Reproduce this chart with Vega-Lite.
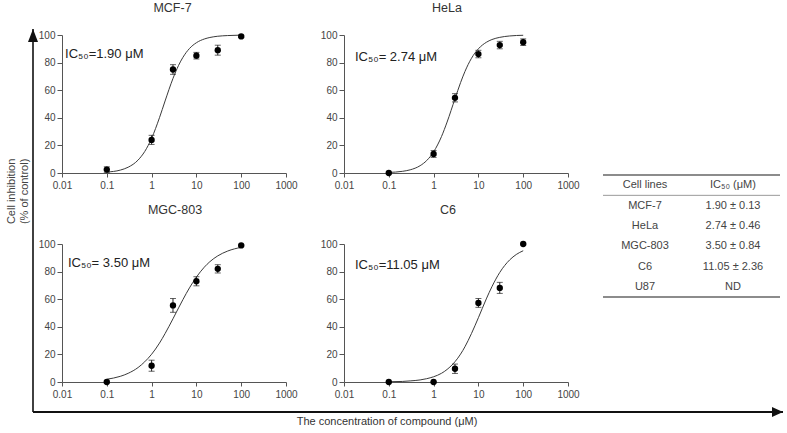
{
  "$schema": "https://vega.github.io/schema/vega-lite/v6.json",
  "padding": {"left": 6, "top": 1, "right": 4, "bottom": 4},
  "autosize": {"type": "pad"},
  "datasets": {
    "curves": [
      {"cell": "MCF-7", "conc": 0.1, "inh": 0.7}, {"cell": "MCF-7", "conc": 0.2, "inh": 2.1}, {"cell": "MCF-7", "conc": 0.3, "inh": 4.2}, {"cell": "MCF-7", "conc": 0.5, "inh": 9.4}, {"cell": "MCF-7", "conc": 0.7, "inh": 15.5}, {"cell": "MCF-7", "conc": 1, "inh": 25.1}, {"cell": "MCF-7", "conc": 1.5, "inh": 40.1}, {"cell": "MCF-7", "conc": 2, "inh": 52.2}, {"cell": "MCF-7", "conc": 3, "inh": 68.5}, {"cell": "MCF-7", "conc": 4, "inh": 78.0}, {"cell": "MCF-7", "conc": 5, "inh": 83.8}, {"cell": "MCF-7", "conc": 7, "inh": 90.2}, {"cell": "MCF-7", "conc": 10, "inh": 94.4}, {"cell": "MCF-7", "conc": 15, "inh": 97.1}, {"cell": "MCF-7", "conc": 20, "inh": 98.2}, {"cell": "MCF-7", "conc": 30, "inh": 99.1}, {"cell": "MCF-7", "conc": 50, "inh": 99.6}, {"cell": "MCF-7", "conc": 100, "inh": 99.9},
      {"cell": "HeLa", "conc": 0.1, "inh": 0.4}, {"cell": "HeLa", "conc": 0.2, "inh": 1.2}, {"cell": "HeLa", "conc": 0.3, "inh": 2.3}, {"cell": "HeLa", "conc": 0.5, "inh": 5.3}, {"cell": "HeLa", "conc": 0.7, "inh": 9.0}, {"cell": "HeLa", "conc": 1, "inh": 15.3}, {"cell": "HeLa", "conc": 1.5, "inh": 26.4}, {"cell": "HeLa", "conc": 2, "inh": 36.9}, {"cell": "HeLa", "conc": 3, "inh": 53.8}, {"cell": "HeLa", "conc": 4, "inh": 65.5}, {"cell": "HeLa", "conc": 5, "inh": 73.5}, {"cell": "HeLa", "conc": 7, "inh": 83.1}, {"cell": "HeLa", "conc": 10, "inh": 90.0}, {"cell": "HeLa", "conc": 15, "inh": 94.7}, {"cell": "HeLa", "conc": 20, "inh": 96.7}, {"cell": "HeLa", "conc": 30, "inh": 98.3}, {"cell": "HeLa", "conc": 50, "inh": 99.3}, {"cell": "HeLa", "conc": 100, "inh": 99.8},
      {"cell": "MGC-803", "conc": 0.1, "inh": 2.0}, {"cell": "MGC-803", "conc": 0.2, "inh": 4.1}, {"cell": "MGC-803", "conc": 0.3, "inh": 6.3}, {"cell": "MGC-803", "conc": 0.5, "inh": 10.5}, {"cell": "MGC-803", "conc": 0.7, "inh": 14.6}, {"cell": "MGC-803", "conc": 1, "inh": 20.1}, {"cell": "MGC-803", "conc": 1.5, "inh": 28.2}, {"cell": "MGC-803", "conc": 2, "inh": 35.1}, {"cell": "MGC-803", "conc": 3, "inh": 45.8}, {"cell": "MGC-803", "conc": 4, "inh": 53.7}, {"cell": "MGC-803", "conc": 5, "inh": 59.7}, {"cell": "MGC-803", "conc": 7, "inh": 68.2}, {"cell": "MGC-803", "conc": 10, "inh": 76.0}, {"cell": "MGC-803", "conc": 15, "inh": 83.2}, {"cell": "MGC-803", "conc": 20, "inh": 87.2}, {"cell": "MGC-803", "conc": 30, "inh": 91.4}, {"cell": "MGC-803", "conc": 50, "inh": 94.9}, {"cell": "MGC-803", "conc": 100, "inh": 97.6},
      {"cell": "C6", "conc": 0.1, "inh": 0.2}, {"cell": "C6", "conc": 0.2, "inh": 0.4}, {"cell": "C6", "conc": 0.3, "inh": 0.8}, {"cell": "C6", "conc": 0.5, "inh": 1.5}, {"cell": "C6", "conc": 0.7, "inh": 2.4}, {"cell": "C6", "conc": 1, "inh": 3.8}, {"cell": "C6", "conc": 1.5, "inh": 6.3}, {"cell": "C6", "conc": 2, "inh": 9.1}, {"cell": "C6", "conc": 3, "inh": 14.7}, {"cell": "C6", "conc": 4, "inh": 20.2}, {"cell": "C6", "conc": 5, "inh": 25.5}, {"cell": "C6", "conc": 7, "inh": 35.1}, {"cell": "C6", "conc": 10, "inh": 46.6}, {"cell": "C6", "conc": 15, "inh": 60.2}, {"cell": "C6", "conc": 20, "inh": 69.0}, {"cell": "C6", "conc": 30, "inh": 79.4}, {"cell": "C6", "conc": 50, "inh": 88.5}, {"cell": "C6", "conc": 70, "inh": 92.4}, {"cell": "C6", "conc": 100, "inh": 95.1}
    ],
    "points": [
      {"cell": "MCF-7", "conc": 0.1, "mean": 2.5, "err": 2}, {"cell": "MCF-7", "conc": 1, "mean": 24, "err": 3.3}, {"cell": "MCF-7", "conc": 3, "mean": 75, "err": 3.5}, {"cell": "MCF-7", "conc": 10, "mean": 85, "err": 2.4}, {"cell": "MCF-7", "conc": 30, "mean": 89, "err": 3.6}, {"cell": "MCF-7", "conc": 100, "mean": 99, "err": 0.8},
      {"cell": "HeLa", "conc": 0.1, "mean": 0, "err": 0.5}, {"cell": "HeLa", "conc": 1, "mean": 13.8, "err": 2.5}, {"cell": "HeLa", "conc": 3, "mean": 54.5, "err": 3}, {"cell": "HeLa", "conc": 10, "mean": 86.2, "err": 2.7}, {"cell": "HeLa", "conc": 30, "mean": 92.7, "err": 2.7}, {"cell": "HeLa", "conc": 100, "mean": 94.8, "err": 2.4},
      {"cell": "MGC-803", "conc": 0.1, "mean": 0, "err": 0.5}, {"cell": "MGC-803", "conc": 1, "mean": 11.8, "err": 4}, {"cell": "MGC-803", "conc": 3, "mean": 55.5, "err": 5}, {"cell": "MGC-803", "conc": 10, "mean": 73, "err": 3.3}, {"cell": "MGC-803", "conc": 30, "mean": 82, "err": 3}, {"cell": "MGC-803", "conc": 100, "mean": 99, "err": 0.5},
      {"cell": "C6", "conc": 0.1, "mean": 0, "err": 0.3}, {"cell": "C6", "conc": 1, "mean": 0, "err": 0.3}, {"cell": "C6", "conc": 3, "mean": 9.6, "err": 3.4}, {"cell": "C6", "conc": 10, "mean": 57.3, "err": 3.2}, {"cell": "C6", "conc": 30, "mean": 68.2, "err": 4}, {"cell": "C6", "conc": 100, "mean": 100, "err": 0.5}
    ],
    "labels": [
      {"cell": "MCF-7", "label": "IC₅₀=1.90 μM"},
      {"cell": "HeLa", "label": "IC₅₀= 2.74 μM"},
      {"cell": "MGC-803", "label": "IC₅₀= 3.50 μM"},
      {"cell": "C6", "label": "IC₅₀=11.05 μM"}
    ],
    "table": [
      {"row": "head", "col": "Cell lines", "text": "Cell lines"}, {"row": "head", "col": "IC50", "text": "IC₅₀ (μM)"},
      {"row": "MCF-7", "col": "Cell lines", "text": "MCF-7"}, {"row": "MCF-7", "col": "IC50", "text": "1.90 ± 0.13"},
      {"row": "HeLa", "col": "Cell lines", "text": "HeLa"}, {"row": "HeLa", "col": "IC50", "text": "2.74 ± 0.46"},
      {"row": "MGC-803", "col": "Cell lines", "text": "MGC-803"}, {"row": "MGC-803", "col": "IC50", "text": "3.50 ± 0.84"},
      {"row": "C6", "col": "Cell lines", "text": "C6"}, {"row": "C6", "col": "IC50", "text": "11.05 ± 2.36"},
      {"row": "U87", "col": "Cell lines", "text": "U87"}, {"row": "U87", "col": "IC50", "text": "ND"}
    ]
  },
  "columns": 3,
  "align": "each",
  "bounds": "flush",
  "spacing": {"row": 71, "column": 35},
  "concat": [
    {
      "width": 247, "height": 138,
      "title": {"text": "MCF-7", "frame": "group", "dx": -13, "offset": 15.7},
      "layer": [
        {"data": {"name": "curves"}, "transform": [{"filter": {"field": "cell", "equal": "MCF-7"}}],
         "mark": {"type": "line", "interpolate": "monotone", "color": "#3a3a3a", "strokeWidth": 1},
         "encoding": {
           "x": {"field": "conc", "type": "quantitative", "title": null, "scale": {"type": "log", "domain": [0.01, 1000], "range": [0, 224], "nice": false},
                 "axis": {"values": [0.01, 0.1, 1, 10, 100, 1000], "tickCount": 12, "format": "~g", "labelFlush": false, "labelOverlap": false, "tickSize": 4, "labelPadding": 3, "labelFontSize": 10, "labelColor": "#444", "domainColor": "#555", "tickColor": "#555", "grid": false}},
           "y": {"field": "inh", "type": "quantitative", "title": null, "scale": {"domain": [0, 100], "nice": false, "zero": false},
                 "axis": {"values": [0, 20, 40, 60, 80, 100], "tickCount": 12, "labelFlush": false, "labelOverlap": false, "tickSize": 5, "labelPadding": 2, "labelFontSize": 10, "labelColor": "#444", "domainColor": "#555", "tickColor": "#555", "grid": false}}
         }},
        {"data": {"name": "points"}, "transform": [{"filter": {"field": "cell", "equal": "MCF-7"}}],
         "mark": {"type": "errorbar", "ticks": {"size": 6, "color": "#222"}, "rule": {"color": "#222"}},
         "encoding": {"x": {"field": "conc", "type": "quantitative", "title": null}, "y": {"field": "mean", "type": "quantitative", "title": null}, "yError": {"field": "err"}}},
        {"data": {"name": "points"}, "transform": [{"filter": {"field": "cell", "equal": "MCF-7"}}],
         "mark": {"type": "circle", "size": 40, "color": "#000", "opacity": 1},
         "encoding": {"x": {"field": "conc", "type": "quantitative", "title": null}, "y": {"field": "mean", "type": "quantitative", "title": null}}},
        {"data": {"name": "labels"}, "transform": [{"filter": {"field": "cell", "equal": "MCF-7"}}],
         "mark": {"type": "text", "align": "left", "baseline": "middle", "fontSize": 13, "color": "#222"},
         "encoding": {"x": {"datum": 0.0117, "type": "quantitative", "title": null}, "y": {"datum": 86, "type": "quantitative", "title": null}, "text": {"field": "label"}}}
      ]
    },
    {
      "width": 224, "height": 138,
      "title": {"text": "HeLa", "frame": "group", "dx": -9, "offset": 15.7},
      "layer": [
        {"data": {"name": "curves"}, "transform": [{"filter": {"field": "cell", "equal": "HeLa"}}],
         "mark": {"type": "line", "interpolate": "monotone", "color": "#3a3a3a", "strokeWidth": 1},
         "encoding": {
           "x": {"field": "conc", "type": "quantitative", "title": null, "scale": {"type": "log", "domain": [0.01, 1000], "range": [0, 224], "nice": false},
                 "axis": {"values": [0.01, 0.1, 1, 10, 100, 1000], "tickCount": 12, "format": "~g", "labelFlush": false, "labelOverlap": false, "tickSize": 4, "labelPadding": 3, "labelFontSize": 10, "labelColor": "#444", "domainColor": "#555", "tickColor": "#555", "grid": false}},
           "y": {"field": "inh", "type": "quantitative", "title": null, "scale": {"domain": [0, 100], "nice": false, "zero": false},
                 "axis": {"values": [0, 20, 40, 60, 80, 100], "tickCount": 12, "labelFlush": false, "labelOverlap": false, "tickSize": 5, "labelPadding": 2, "labelFontSize": 10, "labelColor": "#444", "domainColor": "#555", "tickColor": "#555", "grid": false}}
         }},
        {"data": {"name": "points"}, "transform": [{"filter": {"field": "cell", "equal": "HeLa"}}],
         "mark": {"type": "errorbar", "ticks": {"size": 6, "color": "#222"}, "rule": {"color": "#222"}},
         "encoding": {"x": {"field": "conc", "type": "quantitative", "title": null}, "y": {"field": "mean", "type": "quantitative", "title": null}, "yError": {"field": "err"}}},
        {"data": {"name": "points"}, "transform": [{"filter": {"field": "cell", "equal": "HeLa"}}],
         "mark": {"type": "circle", "size": 40, "color": "#000", "opacity": 1},
         "encoding": {"x": {"field": "conc", "type": "quantitative", "title": null}, "y": {"field": "mean", "type": "quantitative", "title": null}}},
        {"data": {"name": "labels"}, "transform": [{"filter": {"field": "cell", "equal": "HeLa"}}],
         "mark": {"type": "text", "align": "left", "baseline": "middle", "fontSize": 13, "color": "#222"},
         "encoding": {"x": {"datum": 0.0176, "type": "quantitative", "title": null}, "y": {"datum": 84, "type": "quantitative", "title": null}, "text": {"field": "label"}}}
      ]
    },
    {
      "width": 177, "height": 138,
      "resolve": {"scale": {"x": "independent", "y": "independent"}},
      "layer": [
        {
          "layer": [
            {"data": {"name": "table"},
             "mark": {"type": "text", "fontSize": 11, "color": "#444", "baseline": "middle", "align": "center"},
             "encoding": {
               "x": {"field": "col", "type": "nominal", "scale": {"type": "point", "domain": ["Cell lines", "IC50"], "range": [42, 130], "padding": 0}, "axis": null},
               "y": {"field": "row", "type": "nominal", "scale": {"type": "band", "domain": ["head", "MCF-7", "HeLa", "MGC-803", "C6", "U87"], "range": [140, 262], "paddingInner": 0, "paddingOuter": 0}, "axis": null},
               "text": {"field": "text"}
             }},
            {"data": {"values": [{}]},
             "mark": {"type": "rule", "color": "#666", "strokeWidth": 1.5},
             "encoding": {"y": {"datum": "head", "type": "nominal", "bandPosition": 0, "scale": {"type": "band", "domain": ["head", "MCF-7", "HeLa", "MGC-803", "C6", "U87"], "range": [140, 262], "paddingInner": 0, "paddingOuter": 0}, "axis": null}}},
            {"data": {"values": [{}]},
             "mark": {"type": "rule", "color": "#999", "strokeWidth": 1},
             "encoding": {"y": {"datum": "head", "type": "nominal", "bandPosition": 1}}},
            {"data": {"values": [{}]},
             "mark": {"type": "rule", "color": "#666", "strokeWidth": 1.5},
             "encoding": {"y": {"datum": "U87", "type": "nominal", "bandPosition": 1}}}
          ]
        },
        {
          "data": {"values": [{}]},
          "layer": [
            {"mark": {"type": "rule", "color": "#111", "strokeWidth": 1.6},
             "encoding": {
               "x": {"datum": 0, "type": "quantitative", "scale": {"domain": [0, 1], "range": [-570, 180], "nice": false, "zero": false}, "axis": null},
               "y": {"datum": 0, "type": "quantitative", "scale": {"domain": [0, 1], "range": [377, -6], "nice": false, "zero": false}, "axis": null},
               "y2": {"datum": 1}
             }},
            {"mark": {"type": "rule", "color": "#111", "strokeWidth": 1.8},
             "encoding": {"x": {"datum": 0, "type": "quantitative"}, "x2": {"datum": 1}, "y": {"datum": 0, "type": "quantitative"}}},
            {"mark": {"type": "point", "shape": "M0,0L-1,2.6L1,2.6Z", "size": 100, "filled": true, "color": "#111", "opacity": 1, "strokeWidth": 0},
             "encoding": {"x": {"datum": 0, "type": "quantitative"}, "y": {"datum": 1, "type": "quantitative"}}},
            {"mark": {"type": "point", "shape": "M0,0L-2.2,-1L-2.2,1Z", "size": 100, "filled": true, "color": "#111", "opacity": 1, "strokeWidth": 0},
             "encoding": {"x": {"datum": 1, "type": "quantitative"}, "y": {"datum": 0, "type": "quantitative"}}},
            {"mark": {"type": "text", "text": ["Cell inhibition", "(% of control)"], "angle": 270, "fontSize": 11, "lineHeight": 13, "align": "center", "baseline": "middle", "color": "#444"},
             "encoding": {"x": {"datum": -0.028, "type": "quantitative"}, "y": {"datum": 0.576, "type": "quantitative"}}},
            {"mark": {"type": "text", "text": "The concentration of compound (μM)", "fontSize": 11, "align": "center", "baseline": "middle", "color": "#333"},
             "encoding": {"x": {"datum": 0.472, "type": "quantitative"}, "y": {"datum": -0.026, "type": "quantitative"}}}
          ]
        }
      ]
    },
    {
      "width": 247, "height": 138,
      "title": {"text": "MGC-803", "frame": "group", "dx": -10.5, "offset": 22.1},
      "layer": [
        {"data": {"name": "curves"}, "transform": [{"filter": {"field": "cell", "equal": "MGC-803"}}],
         "mark": {"type": "line", "interpolate": "monotone", "color": "#3a3a3a", "strokeWidth": 1},
         "encoding": {
           "x": {"field": "conc", "type": "quantitative", "title": null, "scale": {"type": "log", "domain": [0.01, 1000], "range": [0, 224], "nice": false},
                 "axis": {"values": [0.01, 0.1, 1, 10, 100, 1000], "tickCount": 12, "format": "~g", "labelFlush": false, "labelOverlap": false, "tickSize": 4, "labelPadding": 3, "labelFontSize": 10, "labelColor": "#444", "domainColor": "#555", "tickColor": "#555", "grid": false}},
           "y": {"field": "inh", "type": "quantitative", "title": null, "scale": {"domain": [0, 100], "nice": false, "zero": false},
                 "axis": {"values": [0, 20, 40, 60, 80, 100], "tickCount": 12, "labelFlush": false, "labelOverlap": false, "tickSize": 5, "labelPadding": 2, "labelFontSize": 10, "labelColor": "#444", "domainColor": "#555", "tickColor": "#555", "grid": false}}
         }},
        {"data": {"name": "points"}, "transform": [{"filter": {"field": "cell", "equal": "MGC-803"}}],
         "mark": {"type": "errorbar", "ticks": {"size": 6, "color": "#222"}, "rule": {"color": "#222"}},
         "encoding": {"x": {"field": "conc", "type": "quantitative", "title": null}, "y": {"field": "mean", "type": "quantitative", "title": null}, "yError": {"field": "err"}}},
        {"data": {"name": "points"}, "transform": [{"filter": {"field": "cell", "equal": "MGC-803"}}],
         "mark": {"type": "circle", "size": 40, "color": "#000", "opacity": 1},
         "encoding": {"x": {"field": "conc", "type": "quantitative", "title": null}, "y": {"field": "mean", "type": "quantitative", "title": null}}},
        {"data": {"name": "labels"}, "transform": [{"filter": {"field": "cell", "equal": "MGC-803"}}],
         "mark": {"type": "text", "align": "left", "baseline": "middle", "fontSize": 13, "color": "#222"},
         "encoding": {"x": {"datum": 0.0136, "type": "quantitative", "title": null}, "y": {"datum": 86, "type": "quantitative", "title": null}, "text": {"field": "label"}}}
      ]
    },
    {
      "width": 224, "height": 138,
      "title": {"text": "C6", "frame": "group", "dx": -8, "offset": 22.1},
      "layer": [
        {"data": {"name": "curves"}, "transform": [{"filter": {"field": "cell", "equal": "C6"}}],
         "mark": {"type": "line", "interpolate": "monotone", "color": "#3a3a3a", "strokeWidth": 1},
         "encoding": {
           "x": {"field": "conc", "type": "quantitative", "title": null, "scale": {"type": "log", "domain": [0.01, 1000], "range": [0, 224], "nice": false},
                 "axis": {"values": [0.01, 0.1, 1, 10, 100, 1000], "tickCount": 12, "format": "~g", "labelFlush": false, "labelOverlap": false, "tickSize": 4, "labelPadding": 3, "labelFontSize": 10, "labelColor": "#444", "domainColor": "#555", "tickColor": "#555", "grid": false}},
           "y": {"field": "inh", "type": "quantitative", "title": null, "scale": {"domain": [0, 100], "nice": false, "zero": false},
                 "axis": {"values": [0, 20, 40, 60, 80, 100], "tickCount": 12, "labelFlush": false, "labelOverlap": false, "tickSize": 5, "labelPadding": 2, "labelFontSize": 10, "labelColor": "#444", "domainColor": "#555", "tickColor": "#555", "grid": false}}
         }},
        {"data": {"name": "points"}, "transform": [{"filter": {"field": "cell", "equal": "C6"}}],
         "mark": {"type": "errorbar", "ticks": {"size": 6, "color": "#222"}, "rule": {"color": "#222"}},
         "encoding": {"x": {"field": "conc", "type": "quantitative", "title": null}, "y": {"field": "mean", "type": "quantitative", "title": null}, "yError": {"field": "err"}}},
        {"data": {"name": "points"}, "transform": [{"filter": {"field": "cell", "equal": "C6"}}],
         "mark": {"type": "circle", "size": 40, "color": "#000", "opacity": 1},
         "encoding": {"x": {"field": "conc", "type": "quantitative", "title": null}, "y": {"field": "mean", "type": "quantitative", "title": null}}},
        {"data": {"name": "labels"}, "transform": [{"filter": {"field": "cell", "equal": "C6"}}],
         "mark": {"type": "text", "align": "left", "baseline": "middle", "fontSize": 13, "color": "#222"},
         "encoding": {"x": {"datum": 0.0176, "type": "quantitative", "title": null}, "y": {"datum": 85, "type": "quantitative", "title": null}, "text": {"field": "label"}}}
      ]
    }
  ],
  "config": {
    "font": "Liberation Sans",
    "view": {"stroke": null},
    "title": {"fontSize": 12.5, "fontWeight": "normal", "color": "#333", "anchor": "middle"}
  }
}
